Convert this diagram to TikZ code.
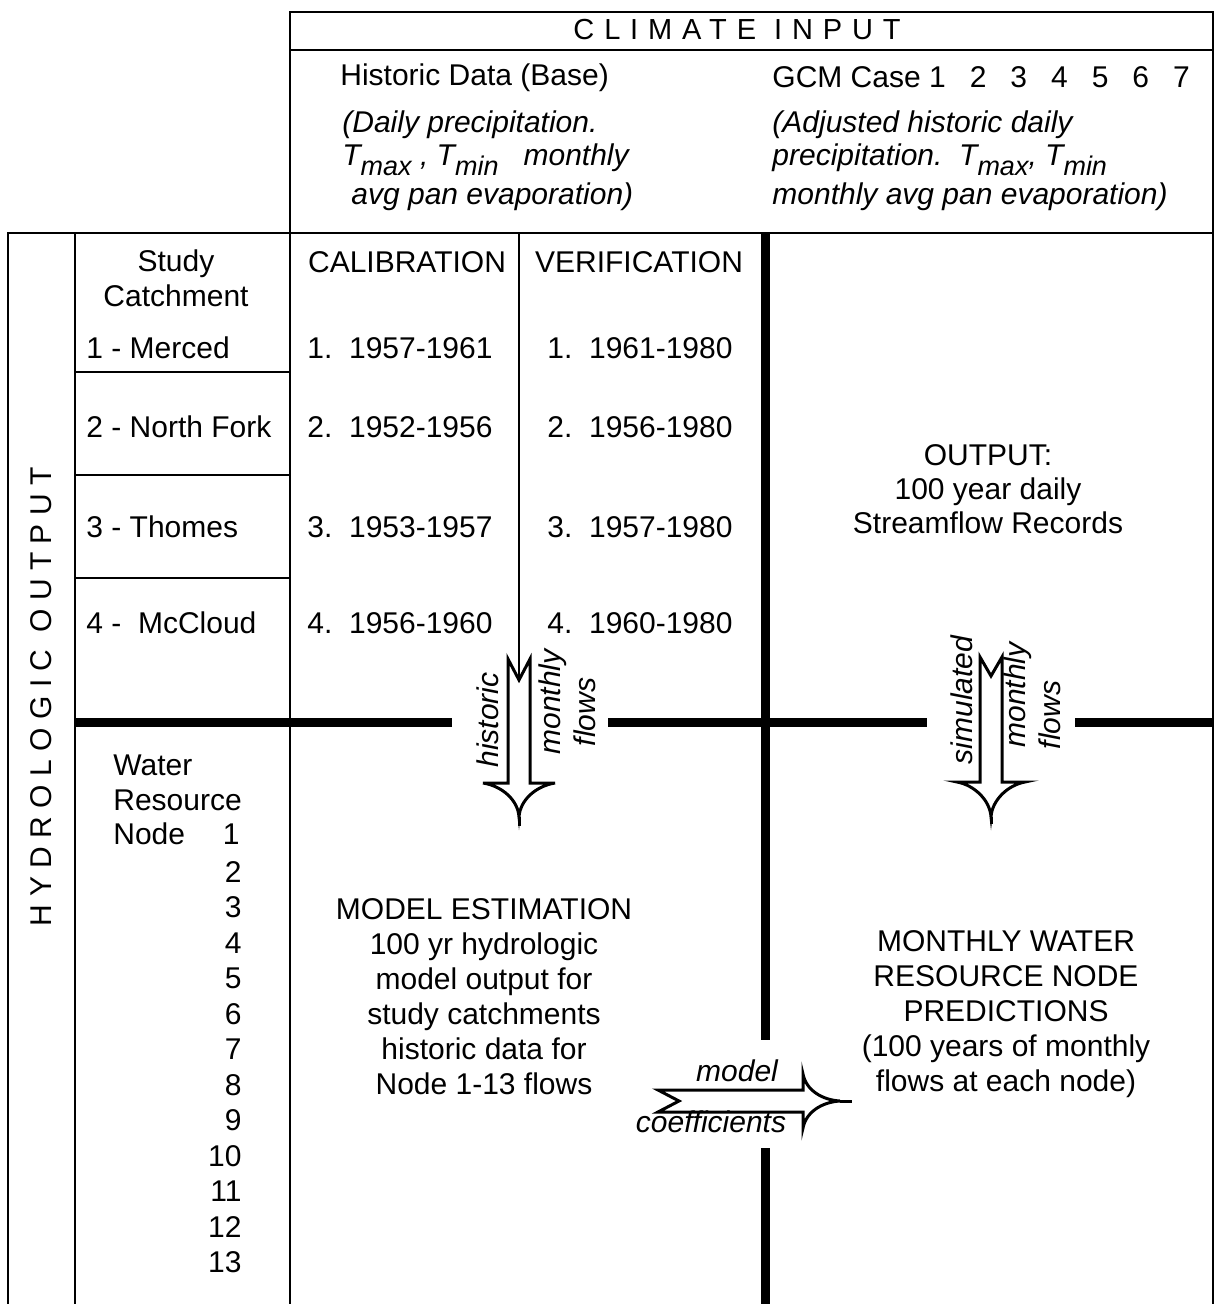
\documentclass[tikz,border=0pt]{standalone}
\usepackage{fontspec}
\setmainfont{Liberation Sans}
\newfontfamily\spacedfont[LetterSpace=28]{Liberation Sans}
\newfontfamily\widefont[LetterSpace=34]{Liberation Sans}
\usetikzlibrary{positioning}

\newcommand{\lowsub}[1]{\raisebox{-0.35em}{\fontsize{13.5}{13.5}\selectfont #1}}

\begin{document}
\begin{tikzpicture}[
    x=0.5pt, y=-0.5pt,
    font=\fontsize{15}{17.5}\selectfont,
    rule/.style={line width=1pt},
    boldrule/.style={line width=4.5pt},
    txt/.style={inner sep=0pt, anchor=west},
    ctxt/.style={inner sep=0pt, align=center},
    rtxt/.style={inner sep=0pt, anchor=east},
    note/.style={inner sep=0pt, anchor=west, font=\fontsize{15}{17.5}\selectfont\itshape},
    sidelab/.style={inner sep=0pt, rotate=90, font=\fontsize{15}{16}\selectfont\itshape},
    flow/.style={line width=1.5pt, line join=miter, fill=white}
]
\useasboundingbox (0,0) rectangle (1222,1304);

% Table frame
\draw[rule] (290,1304) -- (290,12) -- (1213,12) -- (1213,1304);
\draw[rule] (290,50) -- (1213,50);
\draw[rule] (8,1304) -- (8,233) -- (1213,233);
\draw[rule] (75,233) -- (75,1304);
\foreach \y in {372,475,578}
  \draw[rule] (75,\y) -- (290,\y);

% Thick dividers
\draw[boldrule] (75,722) -- (452,722);
\draw[boldrule] (608,722) -- (927,722);
\draw[boldrule] (1075,722) -- (1213,722);
\draw[boldrule] (765,233) -- (765,1040);
\draw[boldrule] (765,1148) -- (765,1304);

% Climate input header
\node[ctxt, font=\fontsize{14.5}{17}\widefont] (climate) at (737,30) {CLIMATE INPUT};
\node[txt] (base) at (340,78) {Historic Data (Base)};
\node[txt] (gcm) at (772,77) {GCM Case 1\hspace{12pt}2\hspace{12pt}3\hspace{12pt}4\hspace{12pt}5\hspace{12pt}6\hspace{12pt}7};
\node[note] (base-l1) at (342,125) {(Daily precipitation.};
\node[note] (base-l2) at (342,160) {T\lowsub{max} , T\lowsub{min}\ \ \ monthly};
\node[note] (base-l3) at (351,197) {avg pan evaporation)};
\node[note] (gcm-l1) at (772,125) {(Adjusted historic daily};
\node[note] (gcm-l2) at (772,160) {precipitation.\ \ T\lowsub{max}, T\lowsub{min}};
\node[note] (gcm-l3) at (772,197) {monthly avg pan evaporation)};

% Hydrologic output side
\node[ctxt, rotate=90, font=\fontsize{15}{17}\spacedfont] (hydro) at (41,697) {HYDROLOGIC OUTPUT};

% Study catchments
\node[ctxt] (study) at (176,278) {Study\\Catchment};
\node[txt] (merced) at (86,348) {1 - Merced};
\node[txt] (nfork) at (86,427) {2 - North Fork};
\node[txt] (thomes) at (86,527) {3 - Thomes};
\node[txt] (mccloud) at (86,623) {4 -\ \ McCloud};

% Calibration / verification periods
\node[ctxt] (calib) at (407,262) {CALIBRATION};
\node[ctxt] (verif) at (639,262) {VERIFICATION};
\node[txt] (cal1) at (307,348) {1.\ \ 1957-1961};
\node[txt] (cal2) at (307,427) {2.\ \ 1952-1956};
\node[txt] (cal3) at (307,527) {3.\ \ 1953-1957};
\node[txt] (cal4) at (307,623) {4.\ \ 1956-1960};
\node[txt] (ver1) at (547,348) {1.\ \ 1961-1980};
\node[txt] (ver2) at (547,427) {2.\ \ 1956-1980};
\node[txt] (ver3) at (547,527) {3.\ \ 1957-1980};
\node[txt] (ver4) at (547,623) {4.\ \ 1960-1980};

% Simulated output
\node[ctxt, font=\fontsize{15}{17}\selectfont] (output) at (988,489) {OUTPUT:\\100 year daily\\Streamflow Records};

% Water resource nodes
\node[txt] (water) at (113,765) {Water};
\node[txt] (resource) at (113,800) {Resource};
\node[txt] (nodelab) at (113,834) {Node};
\node[rtxt] (n1) at (240,834) {1};
\foreach \n in {2,...,13}
  \node[rtxt] (n\n) at (242,{872+35.5*(\n-2)}) {\n};

% Model estimation and predictions
\node[ctxt] (estim) at (484,997) {MODEL ESTIMATION\\100 yr hydrologic\\model output for\\study catchments\\historic data for\\Node 1-13 flows};
\node[ctxt] (predict) at (1006,1014) {MONTHLY WATER\\RESOURCE NODE\\PREDICTIONS\\(100 years of monthly\\flows at each node)};

% Historic flows arrow
\coordinate (caltop) at (519,233);
\coordinate (calnotch) at (519,680);
\draw[flow] (508,659) -- (calnotch) -- (530,659) -- (530,783) -- (555,783)
  .. controls (536,786) and (520,800) .. (519,817)
  .. controls (518,800) and (502,786) .. (483,783) -- (508,783) -- cycle;
\draw[rule] (caltop) -- (calnotch);
\draw[flow] (519,817) -- (519,826);
\node[sidelab] (hist-a) at (488,720) {historic};
\node[sidelab] (hist-b) at (553,702) {monthly};
\node[sidelab] (hist-c) at (585,712) {flows};

% Simulated flows arrow
\draw[flow] (980,657) -- (991,676) -- (1002,657) -- (1002,782) -- (1025,782)
  .. controls (1008,785) and (992,800) .. (991,817)
  .. controls (990,800) and (974,785) .. (957,782) -- (980,782) -- cycle;
\draw[flow] (991,817) -- (991,824);
\node[sidelab] (sim-a) at (962,700) {simulated};
\node[sidelab] (sim-b) at (1018,695) {monthly};
\node[sidelab] (sim-c) at (1050,715) {flows};

% Model coefficients arrow
\draw[flow] (658,1090) -- (679,1101) -- (658,1112) -- (803,1112) -- (803,1128)
  .. controls (806,1112) and (822,1102) .. (840,1101)
  .. controls (822,1100) and (806,1090) .. (803,1074) -- (803,1090) -- cycle;
\draw[flow] (840,1101) -- (852,1101);
\node[ctxt, font=\fontsize{15}{17}\selectfont\itshape] (coef-a) at (737,1071) {model};
\node[ctxt, font=\fontsize{15}{17}\selectfont\itshape] (coef-b) at (711,1122) {coefficients};

\end{tikzpicture}
\end{document}
